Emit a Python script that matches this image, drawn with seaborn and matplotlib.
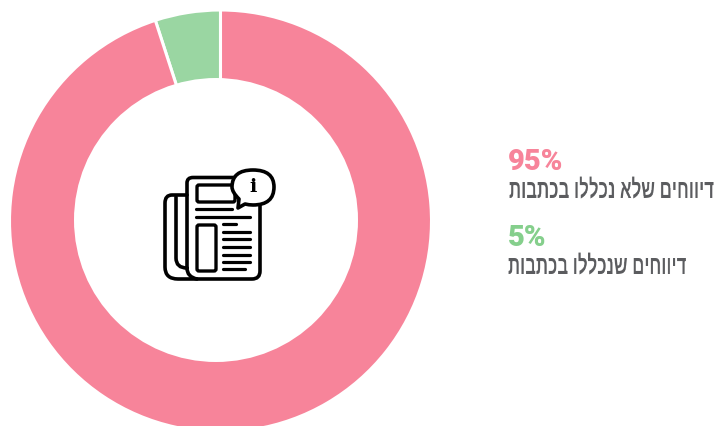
import matplotlib
matplotlib.use("Agg")
import matplotlib.pyplot as plt
import numpy as np
import seaborn as sns
from matplotlib.patches import Circle, FancyBboxPatch, PathPatch
from matplotlib.path import Path

# Data
shares = [5, 95]
slice_colors = ["#9ad6a2", "#f7849a"]
pct_labels = ["95%", "5%"]
pct_colors = ["#f7849a", "#85cf8c"]
labels = ["דיווחים שלא נכללו בכתבות", "דיווחים שנכללו בכתבות"]
label_widths = [205, 178]

W, H = 718, 426
INK = "#000000"
TEXT = "#5b5c5f"

sns.set_theme(style="white")

fig = plt.figure(figsize=(W / 100, H / 100), dpi=100)
ax = fig.add_axes([0, 0, 1, 1])


def Y(py):
    return H - py


# squeezes a drawn text sideways towards its right edge, there is no condensed Hebrew font here
def squeeze_to(width):
    def flt(img, dpi):
        h, w = img.shape[:2]
        pos = (np.arange(width) + 0.5) * w / width - 0.5
        out = np.zeros((h, width, img.shape[2]))
        for i in range(h):
            for c in range(img.shape[2]):
                out[i, :, c] = np.interp(pos, np.arange(w), img[i, :, c])
        return out, w - width, 0
    return flt


# Donut
ax.pie(shares, colors=slice_colors, startangle=90, radius=211, center=(220.5, Y(221)),
       wedgeprops={"edgecolor": "white", "linewidth": 2.2}, frame=True)
ax.add_patch(Circle((216, Y(220)), 142, fc="white", ec="none", zorder=3))


# Newspaper icon, in pixel positions
def stroke(pts, lw=2.6):
    codes = [c for _, c in pts]
    verts = [(x, Y(y)) for (x, y), _ in pts]
    ax.add_patch(PathPatch(Path(verts, codes), fc="none", ec=INK, lw=lw, zorder=5, capstyle="round", joinstyle="round"))


M, L, C = Path.MOVETO, Path.LINETO, Path.CURVE3
# page: left side and top
stroke([((187, 268), M), ((187, 183), L), ((187, 177.5), C), ((193, 177.5), C), ((250, 177.5), L)])
# back fold, bottom and right side
stroke([((187, 195), M), ((172, 195), L), ((165, 195), C), ((165, 203), C), ((165, 267), L), ((165, 279), C),
        ((178, 279), C), ((252, 279), L), ((260, 279), C), ((260, 271), C), ((260, 205), L)])
stroke([((176, 197), M), ((176, 258), L), ((176, 268), C), ((187, 268), C)])
stroke([((187, 268), M), ((187, 277), C), ((197, 279), C)])
ax.add_patch(FancyBboxPatch((197, Y(202)), 38, 17, boxstyle="round,pad=0,rounding_size=2", fc="none", ec=INK, lw=2.4, zorder=5))
ax.add_patch(FancyBboxPatch((197, Y(271)), 19, 46, boxstyle="round,pad=0,rounding_size=2", fc="none", ec=INK, lw=2.4, zorder=5))
for x0, x1, y in [(196, 232, 209), (196, 250, 217), (223, 236, 224), (223, 250, 232), (223, 250, 239),
                  (223, 250, 247), (223, 250, 255), (223, 250, 262), (223, 245, 269)]:
    stroke([((x0, y), M), ((x1, y), L)], lw=2.3)

# Speech bubble
bubble = [((239, 199), M), ((232, 192), C), ((232, 187), C), ((232, 170), C), ((253, 170), C), ((274, 170), C),
          ((274, 187), C), ((274, 205), C), ((253, 205), C), ((249, 205), C), ((245, 204), C), ((238, 208), L),
          ((239, 199), L), ((239, 199), Path.CLOSEPOLY)]
ax.add_patch(PathPatch(Path([(x, Y(y)) for (x, y), _ in bubble], [c for _, c in bubble]),
                       fc="white", ec=INK, lw=2.6, zorder=6, joinstyle="round"))
ax.text(253, Y(187), "i", family="DejaVu Serif", weight="bold", fontsize=14, color=INK, ha="center", va="center", zorder=7)

ax.set_xlim(0, W)
ax.set_ylim(0, H)
ax.set_aspect("equal")
ax.axis("off")

# Legend text; Hebrew reversed because matplotlib lays text out left to right
ax.text(508, Y(161.5), pct_labels[0], family="Roboto", weight="black", fontsize=21, color=pct_colors[0], va="center")
ax.text(508, Y(237.5), pct_labels[1], family="Roboto", weight="black", fontsize=21, color=pct_colors[1], va="center")
for txt, width, right, py in zip(labels, label_widths, [714, 687], [190, 266]):
    t = ax.text(right, Y(py), txt[::-1], family=["Liberation Sans", "DejaVu Sans"], weight="bold", fontsize=18.5,
                color=TEXT, ha="right", va="center")
    t.set_agg_filter(squeeze_to(width))

fig.savefig("out.png", dpi=100)
